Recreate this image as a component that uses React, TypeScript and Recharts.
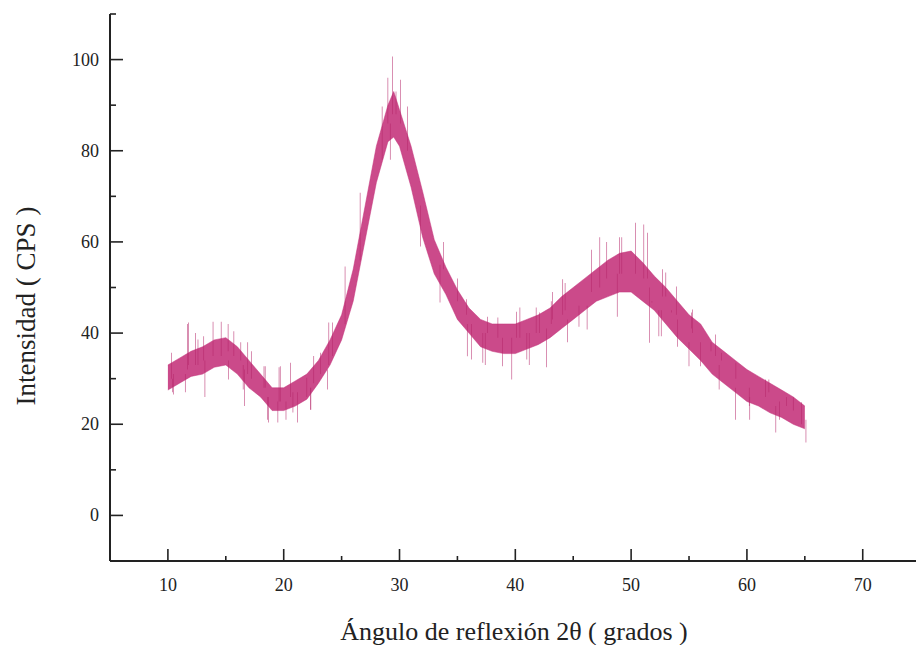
import { ComposedChart, Area, Bar, XAxis, YAxis, Label } from "recharts";

// 2θ sampling of the diffractogram body
const angles = [
  10, 11, 12, 13, 14, 15, 16, 17, 18, 19, 20, 21, 22, 23, 24, 25, 26, 27, 28, 29, 29.5,
  30, 31, 32, 33, 34, 35, 36, 37, 38, 39, 40, 41, 42, 43, 44, 45, 46, 47, 48, 49, 50,
  51, 52, 53, 54, 55, 56, 57, 58, 59, 60, 61, 62, 63, 64, 65,
];
// lower / upper edge of the dense noise band (CPS)
const bandLow = [
  27.5, 29, 30.5, 31, 32.5, 33, 31, 28, 26, 23, 23, 24, 25.5, 29, 33, 38.5, 47, 60, 73, 82, 83,
  81, 72, 61, 53, 48.5, 43, 40, 37, 36, 35.5, 35.5, 36.5, 37.5, 39, 41, 43, 45, 47, 48, 49, 49,
  47, 45, 42, 39, 36.5, 34, 31, 29, 27, 25, 24, 22.5, 21.5, 20, 19,
];
const bandHigh = [
  33, 34.5, 36, 37, 38.5, 39, 37, 34, 31, 28, 28, 29.5, 31, 34, 38.5, 44, 54, 67.5, 81, 90, 93,
  89, 81, 71, 60.5, 54.5, 49.5, 45.5, 43, 42, 42, 42, 43, 44, 45.5, 48, 50, 52, 54, 56, 57.5, 58,
  55.5, 52.5, 50, 47, 44, 42, 38, 36, 34, 32, 30.5, 29, 27.5, 26, 24,
];

// isolated noise spikes sticking out of the band
const spikeAngles = [
  10.3, 10.4, 11.5, 11.8, 12.4, 13.1, 13.2, 13.9, 14.6, 15.2, 15.7, 16.3, 16.5, 17.2, 18.4,
  18.6, 19.5, 19.7, 20.2, 20.6, 21.2, 22.3, 22.6, 23.9, 25.3, 26.6, 28.5, 29.0, 29.2, 29.4,
  29.7, 30.1, 30.7, 31.8, 33.5, 33.8, 35.0, 36.2, 37.4, 38.9, 39.7, 40.1, 41.2, 41.8, 42.7,
  43.1, 44.1, 45.5, 46.6, 47.3, 48.8, 49.0, 50.4, 51.1, 51.6, 52.7, 53.9, 54.0, 55.3, 56.0,
  57.3, 60.2, 61.9, 62.8, 64.0, 65.1,
  // second pass
  10.5, 11.7, 12.6, 15.25, 16.6, 16.9, 18.3, 18.7, 19.6, 20.8, 22.0, 22.35, 23.2, 23.8, 24.2,
  35.8, 35.85, 37.2, 37.6, 38.5, 40.4, 41.0, 42.1, 43.2, 44.3, 44.5, 46.2, 47.9, 49.2, 51.4,
  52.4, 53.0, 53.5, 51.8, 52.6, 55.0, 55.2, 56.9, 57.6, 57.8, 59.0, 59.05, 60.25, 61.6, 62.5,
  63.4, 64.7,
];
const spikeLow = [
  30, 27, 27, 33, 33, 34, 26, 35, 35, 36, 35, 34, 27.6, 30, 28, 21, 20.4, 25, 21, 26, 20.4,
  23.2, 29, 33, 42, 56, 78, 86, 78, 88, 88, 86, 80, 59, 46.7, 54, 47, 34.2, 33, 32.7, 29.8,
  39, 33, 40, 32.5, 42, 44, 41.4, 49, 50, 43.6, 53, 53, 52, 37.9, 48, 44, 37, 40, 32.7, 35,
  24, 27, 21, 23, 16,
  26.5, 32, 33, 29.8, 24, 31, 28, 20.4, 25, 22.6, 26, 23.2, 31, 27.6, 35,
  44, 34.9, 33.5, 40, 39, 39, 34.2, 40, 43, 45, 38, 40.8, 52, 53, 52,
  39.3, 48, 45, 47, 39.3, 32.7, 41, 36, 27.6, 34, 21, 30, 21, 26, 18.2,
  24, 20,
];
const spikeHigh = [
  35.7, 30, 31, 42.3, 40, 39.3, 34, 42.5, 42.5, 42, 40.4, 38, 33, 36, 32.7, 26, 25, 32.7, 25,
  33.5, 27, 28, 35, 42.3, 54.6, 70.8, 89.7, 96, 86, 100.7, 93, 95.6, 89.7, 68, 55, 60, 52, 42,
  40, 39, 39, 44.7, 40, 45.6, 41, 47, 51.8, 46, 58.3, 61, 53, 61, 64.2, 63.8, 50, 54, 50.2, 43,
  45.2, 38, 39.7, 28, 29.8, 25, 26, 21,
  31, 42, 38.6, 34, 32, 38, 32.7, 26, 32.5, 27, 30.2, 28, 35.7, 32, 42.3,
  47.4, 42, 40, 43.6, 43.4, 45.6, 40, 44.5, 49, 51, 43, 46, 60, 61, 62,
  45, 53.3, 44.5, 46.7, 45, 38, 44.5, 38, 33, 35.7, 28, 33.5, 26, 29.8, 24,
  26, 24.8,
];

const xTicks = [10, 15, 20, 25, 30, 35, 40, 45, 50, 55, 60, 65, 70];
const yTicks = [0, 10, 20, 30, 40, 50, 60, 70, 80, 90, 100, 110];

const data = [
  ...angles.map((a, i) => ({ angle: a, band: [bandLow[i], bandHigh[i]] })),
  ...spikeAngles.map((a, i) => ({ angle: a, spike: [spikeLow[i], spikeHigh[i]] })),
].sort((p, q) => p.angle - q.angle);

const serif = { fontFamily: "'Liberation Serif', 'Times New Roman', 'DejaVu Serif', serif" };
const ink = "#222";
const trace = "#c4317a";

const XTick = ({ x, y, payload }: any) => {
  const major = payload.value % 10 === 0;
  return (
    <g>
      <line x1={x} x2={x} y1={y} y2={y - (major ? 12 : 5)} stroke={ink} strokeWidth={1.6} />
      {major && (
        <text x={x} y={y + 30} textAnchor="middle" style={serif} fontSize={18} fill={ink}>
          {payload.value}
        </text>
      )}
    </g>
  );
};

const YTick = ({ x, y, payload }: any) => {
  const major = payload.value % 20 === 0 && payload.value <= 100;
  return (
    <g>
      <line x1={x} x2={x + (major ? 13 : 6)} y1={y} y2={y} stroke={ink} strokeWidth={1.6} />
      {major && (
        <text x={x - 11} y={y} textAnchor="end" dominantBaseline="central" style={serif} fontSize={18} fill={ink}>
          {payload.value}
        </text>
      )}
    </g>
  );
};

export default function App() {
  return (
    <div style={{ position: "absolute", left: 0, top: 0, width: 916, height: 645, overflow: "hidden", background: "#fff" }}>
      <ComposedChart width={916} height={645} data={data} margin={{ top: 14, right: 0, bottom: 0, left: 0 }}>
        <XAxis
          dataKey="angle"
          type="number"
          domain={[5, 74.6]}
          ticks={xTicks}
          allowDataOverflow
          height={84}
          tickSize={0}
          tickMargin={0}
          tickLine={false}
          tick={<XTick />}
          axisLine={{ stroke: ink, strokeWidth: 2 }}
        >
          <Label
            content={() => (
              <text x={514} y={640} textAnchor="middle" style={serif} fontSize={26} fill={ink}>
                Ángulo de reflexión 2θ ( grados )
              </text>
            )}
          />
        </XAxis>
        <YAxis
          type="number"
          domain={[-10, 110]}
          ticks={yTicks}
          allowDataOverflow
          width={110}
          tickSize={0}
          tickMargin={0}
          tickLine={false}
          tick={<YTick />}
          axisLine={{ stroke: ink, strokeWidth: 2 }}
        >
          <Label
            content={() => (
              <text
                x={26}
                y={306}
                transform="rotate(-90, 26, 306)"
                textAnchor="middle"
                dominantBaseline="central"
                style={serif}
                fontSize={27}
                fill={ink}
              >
                Intensidad ( CPS )
              </text>
            )}
          />
        </YAxis>
        <Area
          dataKey="band"
          type="linear"
          connectNulls
          fill={trace}
          fillOpacity={0.88}
          stroke={trace}
          strokeWidth={1}
          strokeOpacity={0.5}
          dot={false}
          activeDot={false}
          isAnimationActive={false}
        />
        <Bar dataKey="spike" barSize={1.3} fill="#b5276a" isAnimationActive={false} />
      </ComposedChart>
    </div>
  );
}
